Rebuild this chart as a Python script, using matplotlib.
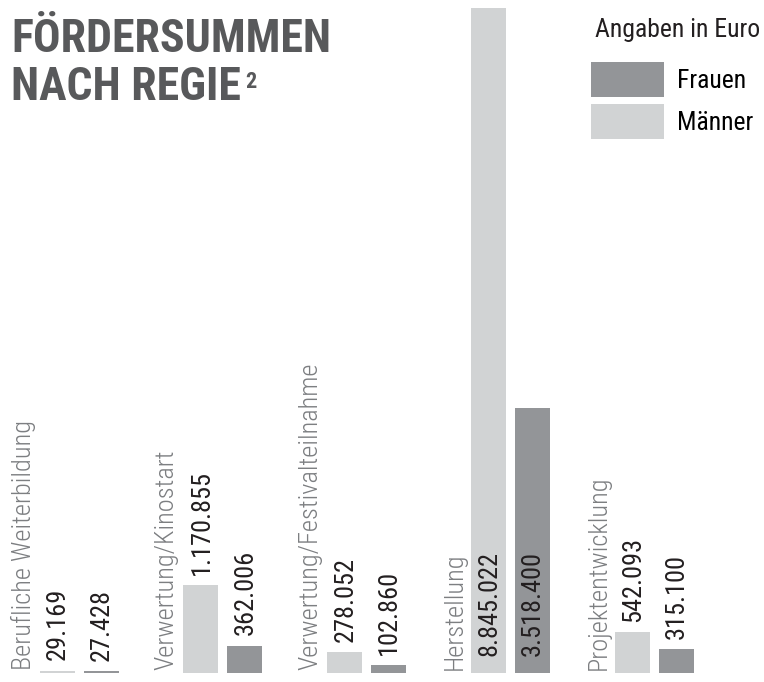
import matplotlib
matplotlib.use('Agg')
import matplotlib.pyplot as plt
import numpy as np

kategorien = ['Berufliche Weiterbildung', 'Verwertung/Kinostart',
              'Verwertung/Festivalteilnahme', 'Herstellung', 'Projektentwicklung']
maenner = [29169, 1170855, 278052, 8845022, 542093]
frauen = [27428, 362006, 102860, 3518400, 315100]

col_m = '#d1d3d4'
col_f = '#939598'
col_titel = '#58595b'
col_kat = '#7c7e81'
col_wert = '#231f20'

schrift = ['Roboto Condensed', 'Liberation Sans Narrow', 'Liberation Sans']


def punkt(v):
	return f'{v:,}'.replace(',', '.')


fig = plt.figure(figsize=(7.64, 6.82), dpi=100)
ax = fig.add_axes([0, 9/682, 1, 665/682])
ax.set_xlim(-57.1/143.8, (764-57.1)/143.8)
ax.set_ylim(0, max(maenner))
ax.axis('off')

x = np.arange(len(kategorien))
breite = 35/143.8
versatz = 44/143.8
b_m = ax.bar(x, maenner, breite, color=col_m, clip_on=False)
b_f = ax.bar(x + versatz, frauen, breite, color=col_f, clip_on=False)

# Werte: oberhalb, bei zu hohen Balken innen
for xs, werte in ((x, maenner), (x + versatz, frauen)):
	for xi, v in zip(xs, werte):
		if v > 3000000:
			ax.annotate(punkt(v), xy=(xi, 0), xytext=(0.5, 12), textcoords='offset points',
						rotation=90, ha='center', va='bottom', fontsize=19,
						family=schrift, color=col_wert, annotation_clip=False)
		else:
			ax.annotate(punkt(v), xy=(xi, v), xytext=(0.5, 7.5), textcoords='offset points',
						rotation=90, ha='center', va='bottom', fontsize=19,
						family=schrift, color=col_wert, annotation_clip=False)

for xi, k in zip(x, kategorien):
	ax.annotate(k, xy=(xi, 0), xytext=(-24.5, 2), textcoords='offset points',
				rotation=90, ha='center', va='bottom', fontsize=19, fontweight='light',
				family=schrift, color=col_kat, annotation_clip=False)

# Titel
fig.text(11/764, 1-52/682, 'FÖRDERSUMMEN', fontsize=33, fontweight='bold',
		 family=schrift, color=col_titel, va='baseline')
t2 = fig.text(11/764, 1-100/682, 'NACH REGIE', fontsize=33, fontweight='bold',
			  family=schrift, color=col_titel, va='baseline')
ax.annotate('2', xy=(1, 1), xycoords=t2, xytext=(3, -4), textcoords='offset points',
			ha='left', va='top', fontsize=16, fontweight='bold', family=schrift,
			color=col_titel, annotation_clip=False)

# Legende
fig.text(595/764, 1-37/682, 'Angaben in Euro', fontsize=18.5, family=schrift,
		 color=col_wert, va='baseline')
ax.legend([b_f, b_m], ['Frauen', 'Männer'], loc='upper left',
		  bbox_to_anchor=(591/764, 1-62/682), bbox_transform=fig.transFigure,
		  frameon=False, prop={'family': schrift, 'size': 18.5},
		  handlelength=2.84, handleheight=1.718, handletextpad=0.52,
		  labelspacing=0.272, borderpad=0, borderaxespad=0)

fig.savefig('out.png', dpi=100, facecolor='white')
